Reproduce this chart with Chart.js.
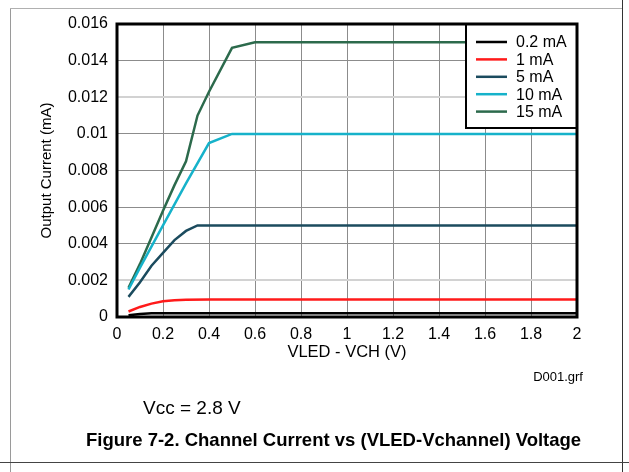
<!DOCTYPE html>
<html>
<head>
<meta charset="utf-8">
<script src="https://cdn.jsdelivr.net/npm/chart.js@4.4.1/dist/chart.umd.min.js"></script>
<style>
  html, body { margin: 0; padding: 0; background: #fff; }
  body { width: 629px; height: 472px; position: relative; overflow: hidden; font-family: "Liberation Sans", Arial, sans-serif; }
  #wrap { position: absolute; left: 0; top: 0; width: 629px; height: 472px; }
  .ln { position: absolute; }
  .txt { position: absolute; color: #000; white-space: nowrap; line-height: 1; }
</style>
</head>
<body>
<div class="ln" style="left:10px;top:8px;width:1px;height:464px;background:#9a9a9a"></div>
<div class="ln" style="left:10px;top:8px;width:612px;height:1px;background:#b0b0b0"></div>
<div class="ln" style="left:622px;top:0px;width:1px;height:472px;background:#333"></div>
<div class="ln" style="left:0px;top:462px;width:629px;height:1px;background:#444"></div>
<div id="wrap"><canvas id="c" width="629" height="472"></canvas></div>
<div class="txt" id="dgrf" style="right:46px;top:370px;font-size:13px;">D001.grf</div>
<div class="txt" id="vcc" style="left:143px;top:398px;font-size:19px;">Vcc = 2.8 V</div>
<div class="txt" id="fig" style="left:86px;top:431px;font-size:18.5px;font-weight:bold;">Figure 7-2. Channel Current vs (VLED-Vchannel) Voltage</div>
<script>
// ---- data ----
const seriesLabels = ["0.2 mA", "1 mA", "5 mA", "10 mA", "15 mA"];

const v02 = [0.05, 0.1, 0.15, 0.3, 1.0, 2.0];
const i02 = [0.0001, 0.00017, 0.0002, 0.0002, 0.0002, 0.0002];

const v1 = [0.05, 0.1, 0.15, 0.2, 0.25, 0.3, 0.4, 1.0, 2.0];
const i1 = [0.0003, 0.00055, 0.00073, 0.00086, 0.00092, 0.00094, 0.00095, 0.00095, 0.00095];

const v5 = [0.05, 0.1, 0.15, 0.2, 0.25, 0.3, 0.35, 1.0, 2.0];
const i5 = [0.0011, 0.0019, 0.0028, 0.0035, 0.0042, 0.0047, 0.005, 0.005, 0.005];

const v10 = [0.05, 0.1, 0.2, 0.3, 0.4, 0.5, 1.0, 2.0];
const i10 = [0.0015, 0.0027, 0.0050, 0.0073, 0.0095, 0.01, 0.01, 0.01];

const v15 = [0.05, 0.1, 0.2, 0.25, 0.3, 0.35, 0.4, 0.5, 0.6, 1.0, 2.0];
const i15 = [0.0016, 0.0029, 0.0058, 0.0072, 0.0085, 0.011, 0.0123, 0.0147, 0.015, 0.015, 0.015];

const xTickLabels = ["0", "0.2", "0.4", "0.6", "0.8", "1", "1.2", "1.4", "1.6", "1.8", "2"];
const yTickLabels = ["0", "0.002", "0.004", "0.006", "0.008", "0.01", "0.012", "0.014", "0.016"];

const seriesColors = ["#000000", "#ff1a1a", "#1b4b5e", "#16b2ca", "#2c6a4c"];

function pts(xs, ys) { return xs.map((x, k) => ({ x: x, y: ys[k] })); }
const allV = [v02, v1, v5, v10, v15];
const allI = [i02, i1, i5, i10, i15];

const datasets = seriesLabels.map((lab, k) => ({
  label: lab,
  data: pts(allV[k], allI[k]),
  borderColor: seriesColors[k],
  backgroundColor: seriesColors[k],
  borderWidth: 2.5,
  pointRadius: 0,
  tension: 0,
  fill: false
}));

const FONT = "'Liberation Sans', Arial, sans-serif";

const framePlugin = {
  id: 'frameAndLegend',
  afterDatasetsDraw(chart) {
    const ctx = chart.ctx;
    const a = chart.chartArea;
    // legend box
    const bx = 466, by = a.top, bw = a.right - 466, bh = 104;
    ctx.save();
    ctx.fillStyle = '#fff';
    ctx.fillRect(bx, by, bw, bh);
    ctx.lineWidth = 2;
    ctx.strokeStyle = '#000';
    ctx.strokeRect(bx, by, bw, bh);
    ctx.font = '16px ' + FONT;
    ctx.textBaseline = 'middle';
    ctx.textAlign = 'left';
    chart.data.datasets.forEach((ds, k) => {
      const y = by + 18 + k * 17.4;
      ctx.strokeStyle = ds.borderColor;
      ctx.lineWidth = 2.5;
      ctx.beginPath();
      ctx.moveTo(476, y);
      ctx.lineTo(507, y);
      ctx.stroke();
      ctx.fillStyle = '#000';
      ctx.fillText(ds.label, 516, y + 1);
    });
    // plot frame
    ctx.lineWidth = 3;
    ctx.strokeStyle = '#000';
    ctx.strokeRect(a.left, a.top, a.right - a.left, a.bottom - a.top);
    ctx.restore();
  }
};

new Chart(document.getElementById('c'), {
  type: 'line',
  data: { datasets: datasets },
  options: {
    responsive: false,
    animation: false,
    layout: { padding: { left: 0, top: 24, right: 52, bottom: 110 } },
    plugins: { legend: { display: false }, tooltip: { enabled: false } },
    scales: {
      x: {
        type: 'linear', min: 0, max: 2,
        afterFit(s) { s.height = 45; },
        ticks: {
          stepSize: 0.2, padding: 8, color: '#000', maxRotation: 0, autoSkip: false,
          font: { family: FONT, size: 16 },
          callback: (v, i) => xTickLabels[i]
        },
        grid: { color: '#8c8c8c', lineWidth: 1, drawTicks: false },
        border: { display: false },
        title: { display: true, text: 'VLED - VCH (V)', color: '#000', font: { family: FONT, size: 16.5 }, padding: { top: 0, bottom: 0 } }
      },
      y: {
        type: 'linear', min: 0, max: 0.016,
        afterFit(s) { s.width = 117; },
        ticks: {
          stepSize: 0.002, padding: 9, color: '#000',
          font: { family: FONT, size: 16 },
          callback: (v, i) => yTickLabels[i]
        },
        grid: {
          color: (c) => (c.index === 1 || c.index === 6) ? '#d2d2d2' : '#8c8c8c',
          lineWidth: (c) => (c.index === 1 || c.index === 6) ? 2 : 1,
          drawTicks: false
        },
        border: { display: false },
        title: { display: true, text: 'Output Current (mA)', color: '#000', font: { family: FONT, size: 15 }, padding: { top: 38, bottom: 0 } }
      }
    }
  },
  plugins: [framePlugin]
});
</script>
</body>
</html>
